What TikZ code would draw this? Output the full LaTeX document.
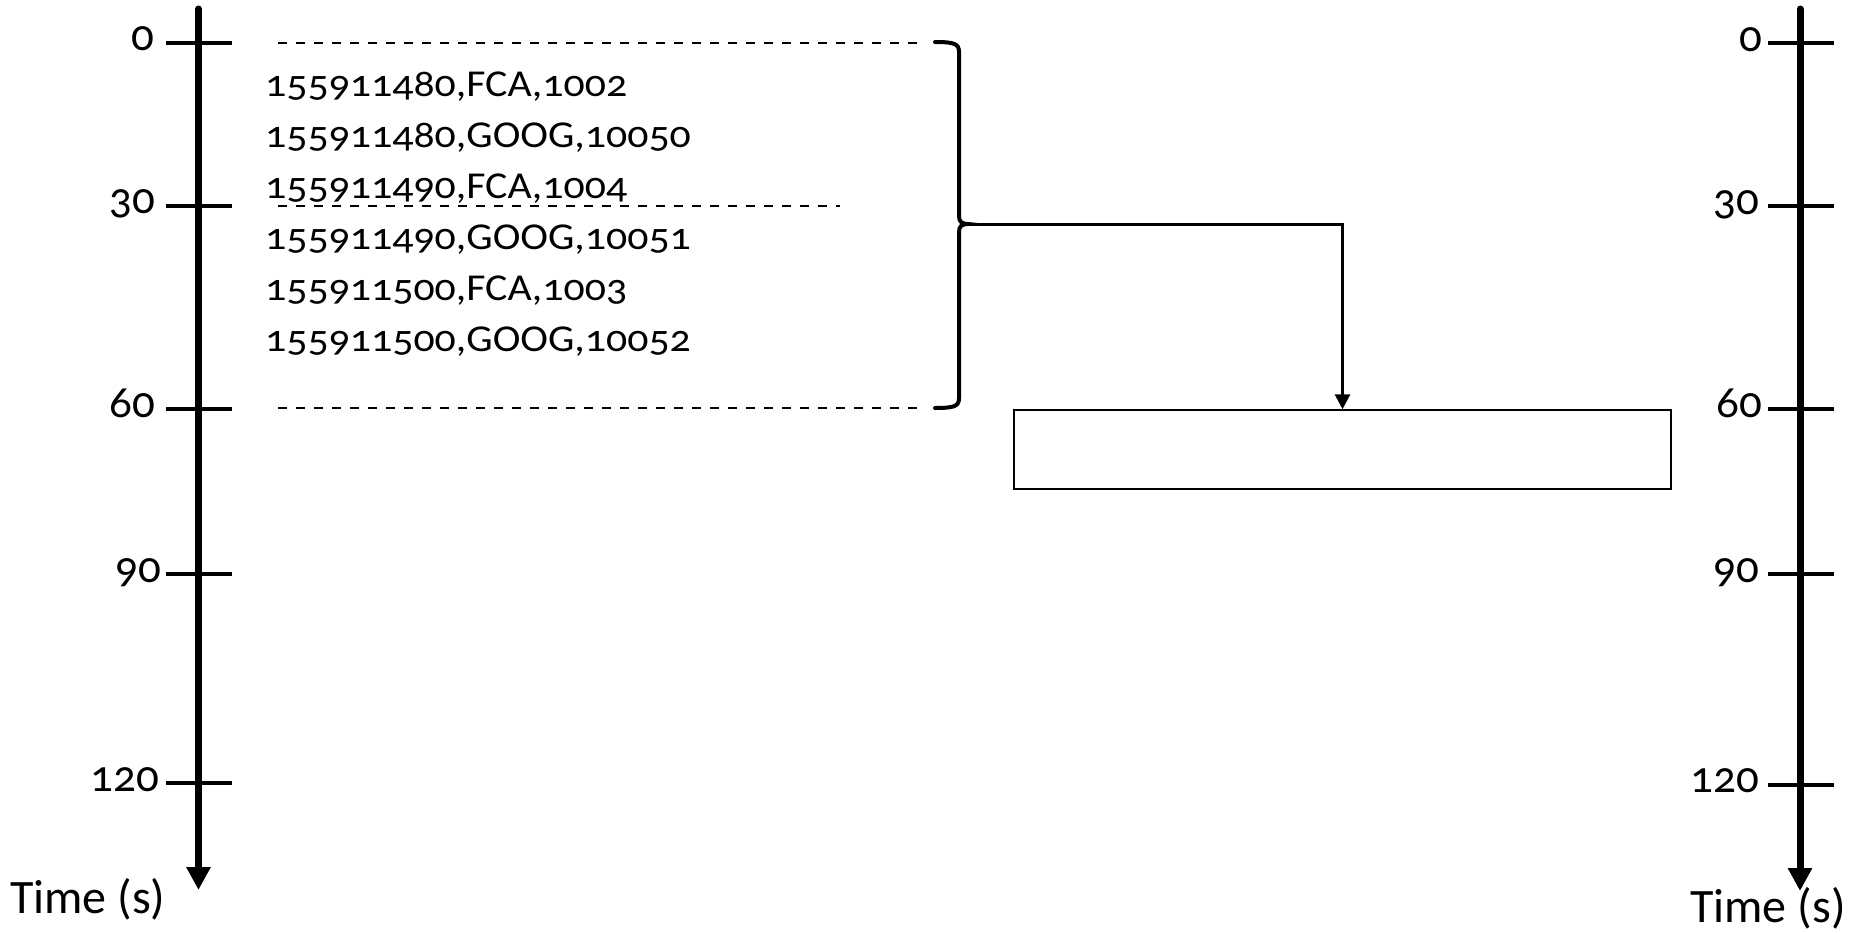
\documentclass[tikz,border=0pt]{standalone}
\usepackage{fontspec}
\setmainfont{Carlito}[Numbers=OldStyle]
\newfontfamily\rowfont{Carlito}[Numbers=OldStyle,FakeStretch=1.10]
\newfontfamily\timefont{Carlito}
\usetikzlibrary{arrows.meta}
\tikzset{
  axisline/.style={line width=7pt, line cap=round, -{Triangle[width=23pt,length=23pt]}},
  tickline/.style={line width=4pt},
  lbl/.style={anchor=base east, inner sep=0pt, font=\fontsize{45}{50}\selectfont},
  rowtxt/.style={anchor=base west, inner sep=0pt, font=\rowfont\fontsize{38}{42}\selectfont},
  timelbl/.style={anchor=base west, inner sep=0pt, font=\timefont\fontsize{48}{54}\selectfont},
  guide/.style={line width=2pt, dash pattern=on 9pt off 9pt},
  bracepath/.style={line width=4pt, line cap=round},
  conn/.style={line width=3pt, -{Triangle[width=15pt,length=15pt]}},
  boxnode/.style={draw, line width=1.5pt, minimum width=657pt, minimum height=79pt, inner sep=0pt}
}
\begin{document}
\begin{tikzpicture}[x=1pt,y=-1pt]
\useasboundingbox (0,0) rectangle (1854,932);
% left axis
\coordinate (la1) at (198.5,9);
\coordinate (la2) at (198.5,890);
\draw[axisline] (la1) -- (la2);
\foreach \y/\lab/\xr in {42.7/0/155, 205.7/30/155, 409/60/155, 574/90/161, 783/120/159}{
  \draw[tickline] (166,\y) -- (232,\y);
  \node[lbl] at (\xr,\y+8) {\lab};
}
\node[timelbl] (ltime) at (10,913) {Time (s)};
% right axis
\coordinate (ra1) at (1800,9);
\coordinate (ra2) at (1800,891);
\draw[axisline] (ra1) -- (ra2);
\foreach \y/\lab/\xr in {43/0/1762, 206/30/1759, 409/60/1762, 574/90/1759, 784.5/120/1759}{
  \draw[tickline] (1768,\y) -- (1834,\y);
  \node[lbl] at (\xr,\y+8) {\lab};
}
\node[timelbl] (rtime) at (1690,922) {Time (s)};
% dashed window guides
\draw[guide] (278,42.5) -- (922,42.5);
\draw[guide] (278,206) -- (840,206);
\draw[guide] (278,408) -- (922,408);
% records
\node[rowtxt] (r1) at (265,96) {155911480,FCA,1002};
\node[rowtxt] (r2) at (265,147) {155911480,GOOG,10050};
\node[rowtxt] (r3) at (265,198) {155911490,FCA,1004};
\node[rowtxt] (r4) at (265,249) {155911490,GOOG,10051};
\node[rowtxt] (r5) at (265,300) {155911500,FCA,1003};
\node[rowtxt] (r6) at (265,351) {155911500,GOOG,10052};
% brace
\coordinate (tip) at (968,224);
\draw[bracepath] (935,42) .. controls (955,42) and (959,44) .. (959,52) -- (959,216)
  .. controls (959,222) and (962,224) .. (tip)
  .. controls (962,224) and (959,226) .. (959,232) -- (959,398)
  .. controls (959,406) and (955,408) .. (935,408);
% result box
\node[boxnode] (box) at (1342.5,449.5) {};
\draw[conn] (tip) -| (box.north);
\end{tikzpicture}
\end{document}
